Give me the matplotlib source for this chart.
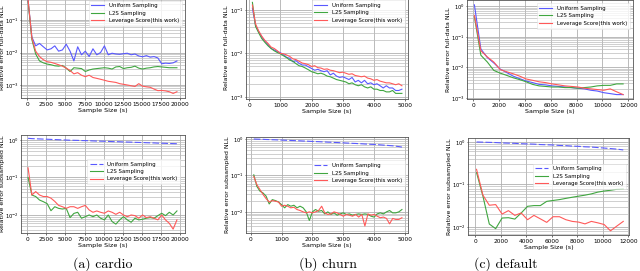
import numpy as np
import matplotlib
matplotlib.use("Agg")
import matplotlib.pyplot as plt
from matplotlib.ticker import LogLocator, NullFormatter

# ---------------- data ----------------
labels = ["Uniform Sampling", "L2S Sampling", "Leverage Score(this work)"]
captions = ["(a) cardio", "(b) churn", "(c) default"]

x_cardio = np.arange(100, 20000, 500)   # 40 sample sizes
x_churn = np.arange(100, 5000, 100)     # 49 sample sizes
x_default = np.arange(100, 12000, 500)  # 24 sample sizes

# --- full-data NLL (top row) ---
cardio_full_uniform = [0.40, 0.030, 0.016, 0.019, 0.015, 0.012, 0.013, 0.016, 0.011, 0.012,
                       0.018, 0.011, 0.0055, 0.015, 0.0085, 0.011, 0.0075, 0.013, 0.0085, 0.010,
                       0.016, 0.0085, 0.0095, 0.009, 0.0088, 0.0092, 0.0095, 0.0085, 0.009, 0.0078,
                       0.0074, 0.008, 0.0072, 0.0075, 0.0068, 0.0045, 0.0047, 0.0046, 0.0048, 0.0055]
cardio_full_l2s = [0.38, 0.025, 0.009, 0.0055, 0.0048, 0.0044, 0.0042, 0.0039, 0.0038, 0.0040,
                   0.0033, 0.0026, 0.0034, 0.0033, 0.0032, 0.0026, 0.0029, 0.0031, 0.0032, 0.0033,
                   0.0034, 0.0033, 0.0031, 0.0036, 0.0037, 0.0032, 0.0034, 0.0035, 0.0038, 0.0033,
                   0.0031, 0.0033, 0.0034, 0.0036, 0.0037, 0.0036, 0.0035, 0.0034, 0.0034, 0.0034]
cardio_full_lev = [0.42, 0.028, 0.011, 0.0075, 0.006, 0.0052, 0.005, 0.0046, 0.0042, 0.0038,
                   0.0033, 0.0028, 0.0022, 0.0024, 0.002, 0.0018, 0.002, 0.0017, 0.0016, 0.0015,
                   0.0014, 0.0013, 0.00125, 0.0012, 0.0011, 0.00105, 0.001, 0.00095, 0.0009, 0.0011,
                   0.00092, 0.00088, 0.00085, 0.00075, 0.00067, 0.00068, 0.00066, 0.00062, 0.00055, 0.00062]

churn_full_uniform = [0.11, 0.045, 0.032, 0.024, 0.019, 0.016, 0.013, 0.012, 0.011, 0.0104,
                      0.0092, 0.0081, 0.0077, 0.0064, 0.0068, 0.0059, 0.0054, 0.0054, 0.0049, 0.0045,
                      0.0041, 0.0043, 0.0040, 0.0038, 0.0040, 0.0032, 0.0035, 0.0030, 0.0028, 0.0029,
                      0.0027, 0.0025, 0.0028, 0.0022, 0.0024, 0.0021, 0.0024, 0.0020, 0.0021, 0.0019,
                      0.0020, 0.0018, 0.0016, 0.0018, 0.0016, 0.0016, 0.0014, 0.0014, 0.0015]
churn_full_l2s = [0.15, 0.042, 0.030, 0.022, 0.018, 0.015, 0.013, 0.0115, 0.0105, 0.0098,
                  0.0088, 0.0080, 0.0070, 0.0066, 0.0058, 0.0052, 0.0050, 0.0046, 0.0042, 0.0038,
                  0.0036, 0.0034, 0.0035, 0.0033, 0.0030, 0.0029, 0.0027, 0.0025, 0.0024, 0.0023,
                  0.0022, 0.0020, 0.0021, 0.0019, 0.0018, 0.0019, 0.0017, 0.0016, 0.0017, 0.0015,
                  0.0015, 0.0014, 0.0014, 0.0013, 0.0013, 0.0014, 0.0012, 0.0012, 0.0012]
churn_full_lev = [0.13, 0.048, 0.033, 0.025, 0.020, 0.017, 0.014, 0.013, 0.0115, 0.010,
                  0.0098, 0.0092, 0.0085, 0.0075, 0.0072, 0.0066, 0.0060, 0.0058, 0.0055, 0.0050,
                  0.0052, 0.0047, 0.0046, 0.0043, 0.0044, 0.0041, 0.0040, 0.0038, 0.0036, 0.0037,
                  0.0035, 0.0033, 0.0034, 0.0031, 0.0030, 0.0029, 0.0030, 0.0027, 0.0026, 0.0024,
                  0.0025, 0.0023, 0.0022, 0.0021, 0.0021, 0.0020, 0.0019, 0.0020, 0.0018]

default_full_uniform = [1.1, 0.04, 0.021, 0.014, 0.0088, 0.0068, 0.0052, 0.0043, 0.0036, 0.0032,
                        0.0028, 0.0027, 0.0025, 0.0024, 0.0023, 0.0022, 0.0021, 0.0020, 0.0018, 0.0017,
                        0.0015, 0.0014, 0.0013, 0.0013]
default_full_l2s = [0.45, 0.025, 0.015, 0.008, 0.0065, 0.0055, 0.0046, 0.0040, 0.0034, 0.0028,
                    0.0025, 0.0024, 0.0023, 0.0023, 0.0022, 0.0022, 0.0021, 0.0022, 0.0023, 0.0025,
                    0.0026, 0.0026, 0.0029, 0.0029]
default_full_lev = [0.5, 0.035, 0.022, 0.015, 0.0085, 0.0072, 0.0062, 0.0052, 0.0042, 0.0038,
                    0.0034, 0.0032, 0.0029, 0.0027, 0.0025, 0.0024, 0.0023, 0.0021, 0.0020, 0.0019,
                    0.0018, 0.0020, 0.0016, 0.0013]

# --- subsampled NLL (bottom row) ---
cardio_sub_uniform = [1.10, 1.08, 1.07, 1.06, 1.05, 1.04, 1.03, 1.02, 1.01, 1.00,
                      0.99, 0.98, 0.975, 0.97, 0.96, 0.955, 0.95, 0.94, 0.93, 0.925,
                      0.92, 0.91, 0.90, 0.895, 0.89, 0.88, 0.875, 0.87, 0.86, 0.855,
                      0.85, 0.84, 0.835, 0.83, 0.82, 0.815, 0.81, 0.80, 0.795, 0.79]
cardio_sub_l2s = [0.10, 0.034, 0.031, 0.025, 0.0226, 0.020, 0.013, 0.0166, 0.015, 0.0144,
                  0.015, 0.0085, 0.011, 0.0118, 0.0082, 0.009, 0.010, 0.009, 0.010, 0.0082,
                  0.0074, 0.010, 0.0067, 0.0057, 0.0074, 0.009, 0.0074, 0.0064, 0.0082, 0.0074,
                  0.0077, 0.0082, 0.0085, 0.0082, 0.0096, 0.0111, 0.0096, 0.0118, 0.010, 0.0128]
cardio_sub_lev = [0.18, 0.034, 0.042, 0.034, 0.031, 0.031, 0.028, 0.023, 0.018, 0.0166,
                  0.015, 0.0166, 0.0166, 0.015, 0.0166, 0.018, 0.0136, 0.0118, 0.0128, 0.0118,
                  0.0111, 0.0128, 0.0118, 0.0104, 0.0118, 0.010, 0.009, 0.010, 0.0096, 0.0082,
                  0.010, 0.0085, 0.009, 0.0082, 0.0074, 0.010, 0.0074, 0.006, 0.0042, 0.0074]

churn_sub_uniform = [1.00, 0.99, 0.985, 0.98, 0.97, 0.965, 0.955, 0.95, 0.94, 0.935,
                     0.925, 0.92, 0.91, 0.905, 0.895, 0.89, 0.88, 0.875, 0.865, 0.86,
                     0.85, 0.845, 0.835, 0.83, 0.82, 0.815, 0.805, 0.80, 0.79, 0.785,
                     0.775, 0.77, 0.76, 0.755, 0.745, 0.74, 0.73, 0.725, 0.715, 0.71,
                     0.70, 0.69, 0.68, 0.67, 0.66, 0.65, 0.635, 0.62, 0.60]
churn_sub_l2s = [0.104, 0.05, 0.037, 0.033, 0.027, 0.0165, 0.0217, 0.0204, 0.0187, 0.0158,
                 0.0129, 0.0158, 0.0143, 0.0152, 0.0129, 0.0143, 0.0129, 0.010, 0.0058, 0.010,
                 0.0116, 0.0104, 0.0109, 0.0088, 0.010, 0.0085, 0.0094, 0.0081, 0.0088, 0.0094,
                 0.0085, 0.0088, 0.0081, 0.0085, 0.0088, 0.0085, 0.0088, 0.0085, 0.0076, 0.0072,
                 0.0088, 0.0094, 0.0088, 0.010, 0.0109, 0.0094, 0.0094, 0.010, 0.0116]
churn_sub_lev = [0.094, 0.056, 0.041, 0.030, 0.023, 0.0187, 0.0204, 0.0196, 0.0187, 0.0143,
                 0.0152, 0.0143, 0.0129, 0.0134, 0.0116, 0.0109, 0.010, 0.0094, 0.010, 0.0094,
                 0.010, 0.0109, 0.0143, 0.0094, 0.0085, 0.0088, 0.010, 0.0094, 0.0085, 0.0076,
                 0.0085, 0.0081, 0.0076, 0.0085, 0.0072, 0.0085, 0.0041, 0.0088, 0.0081, 0.0085,
                 0.0076, 0.0069, 0.0072, 0.0066, 0.0047, 0.0066, 0.0062, 0.0062, 0.0069]

default_sub_uniform = [1.0, 0.99, 0.98, 0.97, 0.95, 0.94, 0.93, 0.91, 0.90, 0.89,
                       0.87, 0.86, 0.85, 0.83, 0.82, 0.80, 0.79, 0.77, 0.76, 0.74,
                       0.72, 0.70, 0.68, 0.65]
default_sub_l2s = [0.19, 0.053, 0.0117, 0.0091, 0.0162, 0.0165, 0.0153, 0.0213, 0.0306, 0.0318,
                   0.0318, 0.040, 0.042, 0.044, 0.047, 0.050, 0.053, 0.056, 0.060, 0.066,
                   0.070, 0.073, 0.077, 0.079]
default_sub_lev = [0.227, 0.056, 0.0324, 0.0336, 0.0201, 0.0242, 0.0187, 0.0213, 0.0148, 0.0187,
                   0.0155, 0.0128, 0.0174, 0.0174, 0.0148, 0.0135, 0.013, 0.0118, 0.0135, 0.0125,
                   0.0114, 0.0081, 0.0105, 0.0135]

# ---------------- figure ----------------
fig = plt.figure(figsize=(6.4, 2.71), dpi=100)

C_BLUE = (0.35, 0.35, 1.0)
C_GREEN = (0.25, 0.65, 0.25)
C_RED = (1.0, 0.35, 0.35)

W, H = 640.0, 271.0

def add_ax(l, r, t, b):
    return fig.add_axes([l / W, 1 - b / H, (r - l) / W, (b - t) / H])

panels = [
    # (px left, right, top, bottom), x, series, xlim, ylim(log10), xticks, ylabel, top?, legend anchor, ylabel px x
    ((21, 185, -2.75, 98), x_cardio, (cardio_full_uniform, cardio_full_l2s, cardio_full_lev),
     (-825, 20655), (-3.4, -0.3), np.arange(0, 20001, 2500), "Relative error full-data NLL", True, (1.0, 1.0), 3.0),
    ((246, 408, -3, 99), x_churn, (churn_full_uniform, churn_full_l2s, churn_full_lev),
     (-106, 5096), (-3.05, -0.7), np.arange(0, 5001, 1000), "Relative error full-data NLL", True, (1.0, 1.0), 226),
    ((467, 633, 0, 99), x_default, (default_full_uniform, default_full_l2s, default_full_lev),
     (-472, 12363), (-3.03, 0.2), np.arange(0, 12001, 2000), "Relative error full-data NLL", True, (1.0, 1.0), 449),
    ((21, 185, 135, 233), x_cardio, (cardio_sub_uniform, cardio_sub_l2s, cardio_sub_lev),
     (-825, 20655), (-2.48, 0.13), np.arange(0, 20001, 2500), "Relative error subsampled NLL", False, (0.99, 0.79), 3.0),
    ((246, 408, 137, 233), x_churn, (churn_sub_uniform, churn_sub_l2s, churn_sub_lev),
     (-152, 5097), (-2.58, 0.055), np.arange(0, 5001, 1000), "Relative error subsampled NLL", False, (1.0, 0.79), 227),
    ((468, 629, 138, 235), x_default, (default_sub_uniform, default_sub_l2s, default_sub_lev),
     (-570, 12050), (-2.19, 0.094), np.arange(0, 12001, 2000), "Relative error subsampled NLL", False, (1.0, 0.77), 450),
]

FS = 4.2
for (l, r, t, b), xs, (su, sl, sv), xl, yl, xt, ylab, top, anchor, ylx in panels:
    ax = add_ax(l, r, t, b)
    ls_u = '-' if top else (0, (6, 2))
    ax.plot(xs, su, color=C_BLUE, lw=0.8, ls=ls_u, label=labels[0])
    ax.plot(xs, sl, color=C_GREEN, lw=0.8, label=labels[1])
    ax.plot(xs, sv, color=C_RED, lw=0.8, label=labels[2])
    ax.set_yscale('log')
    ax.set_xlim(*xl)
    ax.set_ylim(10 ** yl[0], 10 ** yl[1])
    ax.set_xticks(xt)
    ax.yaxis.set_major_locator(LogLocator(base=10))
    ax.yaxis.set_minor_locator(LogLocator(base=10, subs=np.arange(2, 10)))
    ax.yaxis.set_minor_formatter(NullFormatter())
    ax.grid(True, which='major', axis='both', color='#b0b0b0', lw=0.6)
    ax.grid(True, which='minor', axis='y', color='#bcbcbc', lw=0.5)
    ax.set_axisbelow(True)
    ax.tick_params(axis='x', labelsize=FS, length=1.5, width=0.4, pad=1.2)
    ax.tick_params(axis='y', labelsize=3.8, length=1.0, width=0.4, pad=0.8)
    ax.tick_params(which='minor', length=0)
    ax.set_xlabel("Sample Size (s)", fontsize=4.6, labelpad=1)
    ax.set_ylabel(ylab, fontsize=4.5)
    ax.yaxis.label.set_va('center')
    ax.yaxis.set_label_coords((ylx - l) / (r - l), 0.5)
    for s in ax.spines.values():
        s.set_color('#555555')
        s.set_linewidth(0.6)
    leg = ax.legend(loc='upper right', bbox_to_anchor=anchor, fontsize=3.9, frameon=True,
                    handlelength=2.4, borderpad=0.5, labelspacing=0.45, fancybox=False,
                    borderaxespad=0.6)
    leg.get_frame().set_linewidth(0.4)
    leg.get_frame().set_edgecolor('#dddddd')

cap_x = [103, 328, 506]
for cx, cap in zip(cap_x, captions):
    fig.text(cx / W, 1 - 264 / H, cap, ha='center', va='center', fontsize=10,
             family=['cmr10', 'DejaVu Serif'])

fig.savefig("out.png", dpi=100)
